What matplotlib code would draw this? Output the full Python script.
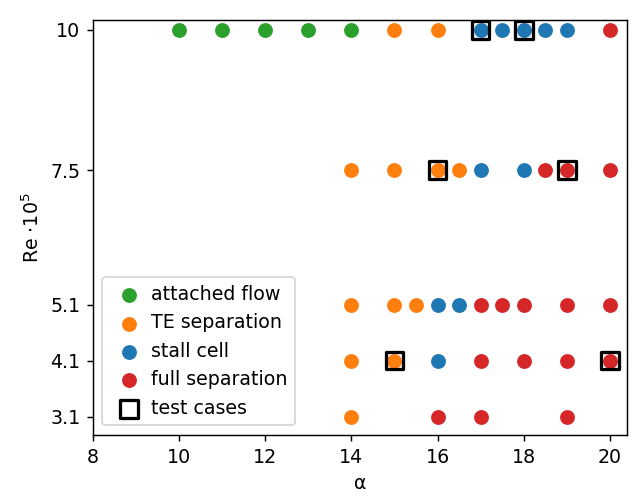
import numpy as np
import matplotlib
matplotlib.use('Agg')
import matplotlib.pyplot as plt

plt.rcParams['font.size'] = 10.5

# flow regimes, alpha / Re*1e-5
attached_a = [10, 11, 12, 13, 14]
attached_re = [10, 10, 10, 10, 10]

te_a = [15, 16, 14, 15, 16, 16.5, 14, 15, 15.5, 14, 15, 14]
te_re = [10, 10, 7.5, 7.5, 7.5, 7.5, 5.1, 5.1, 5.1, 4.1, 4.1, 3.1]

stall_a = [17, 17.5, 18, 18.5, 19, 17, 18, 16, 16.5, 16]
stall_re = [10, 10, 10, 10, 10, 7.5, 7.5, 5.1, 5.1, 4.1]

full_a = [20, 18.5, 19, 20, 17, 17.5, 18, 19, 20, 17, 18, 19, 20, 16, 17, 19]
full_re = [10, 7.5, 7.5, 7.5, 5.1, 5.1, 5.1, 5.1, 5.1, 4.1, 4.1, 4.1, 4.1, 3.1, 3.1, 3.1]

test_a = [17, 18, 16, 19, 15, 20]
test_re = [10, 10, 7.5, 7.5, 4.1, 4.1]

yticks = [3.1, 4.1, 5.1, 7.5, 10]

fig = plt.figure(figsize=(634/130, 499/130), dpi=130)
ax = fig.add_axes([0.1467, 0.1283, 0.8423, 0.8317])

ax.scatter(attached_a, attached_re, s=52, color='tab:green', label='attached flow', zorder=2)
ax.scatter(te_a, te_re, s=52, color='tab:orange', label='TE separation', zorder=2)
ax.scatter(stall_a, stall_re, s=52, color='tab:blue', label='stall cell', zorder=2)
ax.scatter(full_a, full_re, s=52, color='tab:red', label='full separation', zorder=2)
ax.scatter(test_a, test_re, s=96, marker='s', facecolors='none', edgecolors='black',
           linewidths=1.8, label='test cases', zorder=3)

ax.set_xlim(8, 20.4)
ax.set_ylim(2.773, 10.178)
ax.set_xticks([8, 10, 12, 14, 16, 18, 20])
ax.set_yticks(yticks)
ax.set_yticklabels(['3.1', '4.1', '5.1', '7.5', '10'])
ax.set_xlabel('α')
ax.set_ylabel(r'Re $\cdot 10^5$')
ax.legend(loc='lower left', handletextpad=0.15)

fig.savefig('out.png', dpi=130)
